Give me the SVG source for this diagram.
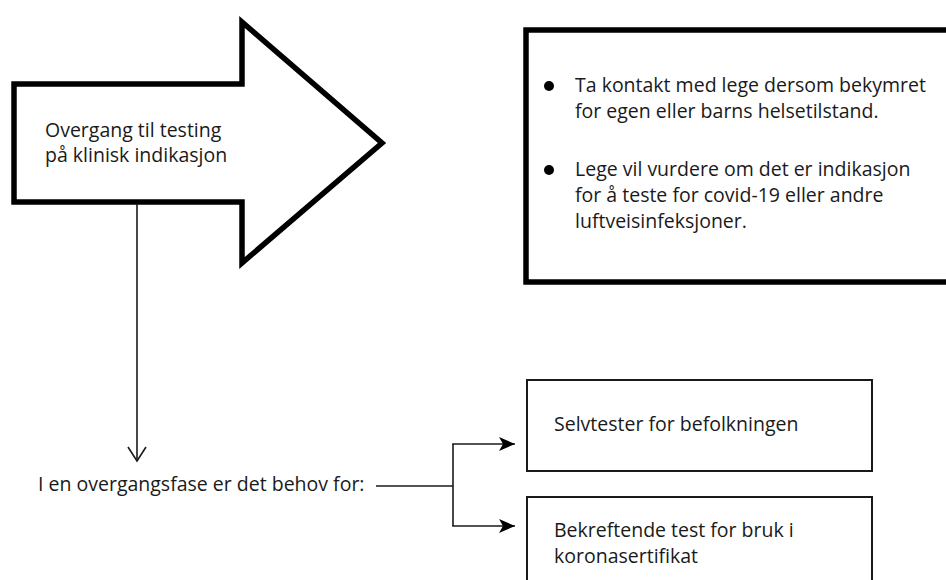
<svg xmlns="http://www.w3.org/2000/svg" width="946" height="580" viewBox="0 0 946 580">
  <style>
    text { font-family: "Open Sans", "Noto Sans", "Liberation Sans", sans-serif; font-size: 19.5px; fill: #1a1a1a; }
    .thick { fill: #ffffff; stroke: #000000; stroke-width: 5.5; stroke-linejoin: miter; }
    .thin { fill: #ffffff; stroke: #1a1a1a; stroke-width: 2; }
    .conn { fill: none; stroke: #1a1a1a; stroke-width: 1.6; }
  </style>
  <defs>
    <marker id="solid" viewBox="0 0 16 14" refX="16" refY="7" markerWidth="16" markerHeight="14" markerUnits="userSpaceOnUse" orient="auto">
      <path d="M0,0 L16,7 L0,14 L4,7 z" fill="#000"/>
    </marker>
  </defs>
  <rect width="946" height="580" fill="#ffffff"/>

  <g id="node-arrow">
    <path class="thick" d="M14,84 H242 V22 L382,143 L242,263 V202 H14 Z"/>
    <text x="45" y="137">Overgang til testing</text>
    <text x="45" y="162">på klinisk indikasjon</text>
  </g>

  <g id="node-info">
    <rect class="thick" x="526" y="30" width="430" height="252" stroke-width="6"/>
    <circle cx="549" cy="86" r="5" fill="#000"/>
    <text x="575" y="92">Ta kontakt med lege dersom bekymret</text>
    <text x="575" y="118">for egen eller barns helsetilstand.</text>
    <circle cx="549" cy="170" r="5" fill="#000"/>
    <text x="575" y="176">Lege vil vurdere om det er indikasjon</text>
    <text x="575" y="202">for å teste for covid-19 eller andre</text>
    <text x="575" y="228">luftveisinfeksjoner.</text>
  </g>

  <g id="node-phase">
    <text x="38" y="491">I en overgangsfase er det behov for:</text>
  </g>

  <g id="node-selftest">
    <rect class="thin" x="527" y="380" width="345" height="91"/>
    <text x="554" y="431">Selvtester for befolkningen</text>
  </g>

  <g id="node-confirm">
    <rect class="thin" x="527" y="497" width="345" height="100"/>
    <text x="554" y="537">Bekreftende test for bruk i</text>
    <text x="554" y="563">koronasertifikat</text>
  </g>

  <g id="connectors">
    <line class="conn" x1="137" y1="204" x2="137" y2="461"/>
    <polyline class="conn" points="128,447 137,461 146,447"/>
    <line class="conn" x1="376" y1="486" x2="453" y2="486"/>
    <line class="conn" x1="453" y1="444" x2="453" y2="526"/>
    <line class="conn" x1="452.2" y1="444" x2="515" y2="444" marker-end="url(#solid)"/>
    <line class="conn" x1="452.2" y1="526" x2="515" y2="526" marker-end="url(#solid)"/>
  </g>
</svg>
